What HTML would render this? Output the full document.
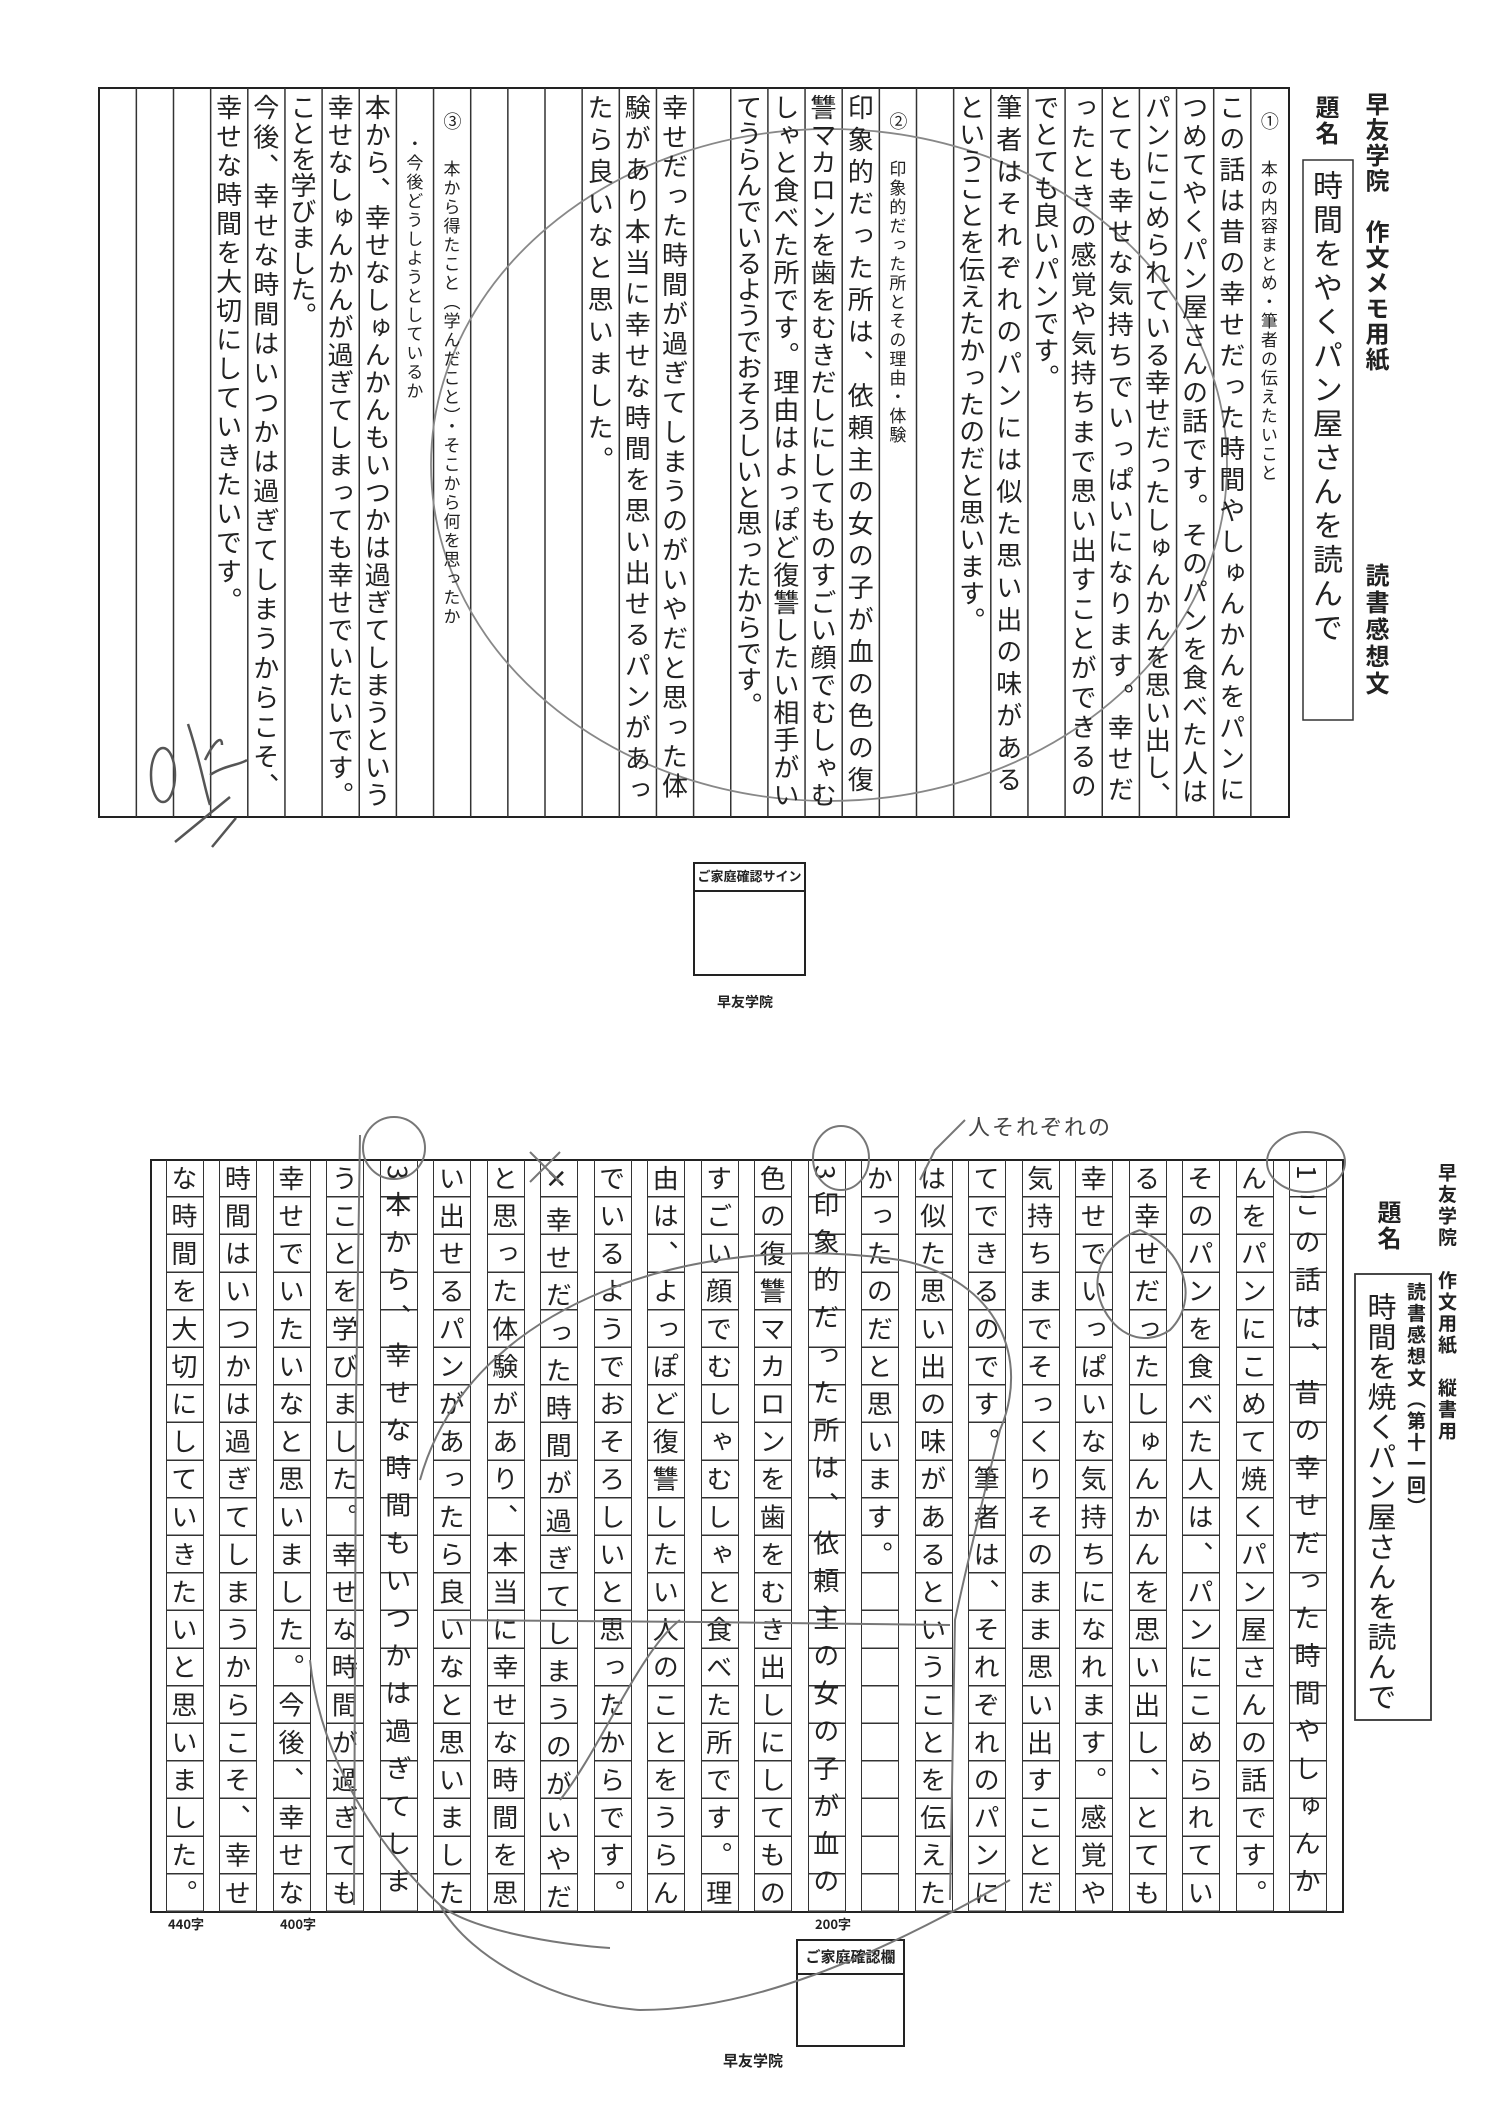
<!DOCTYPE html>
<html><head><meta charset="utf-8"><style>
html,body{margin:0;padding:0;background:#fff;}
body{width:1492px;height:2110px;position:relative;overflow:hidden;font-family:"Liberation Sans","Noto Sans CJK JP",sans-serif;}
.v{position:absolute;writing-mode:vertical-rl;white-space:nowrap;color:#222;}
.hw{font-family:"Noto Sans CJK JP","Liberation Sans",sans-serif;font-weight:400;font-size:26px;text-align:center;}
.pr{font-family:"Noto Sans CJK JP",sans-serif;color:#222;}
.cell{position:absolute;top:1160px;height:752px;width:38px;box-sizing:border-box;border-left:1.5px solid #333;border-right:1.5px solid #333;
background:repeating-linear-gradient(to bottom,transparent 0,transparent 36.1px,#333 36.1px,#333 37.6px);}
.cell span{position:absolute;left:0;top:5px;width:35px;writing-mode:vertical-rl;font-family:"Noto Sans CJK JP",sans-serif;font-weight:400;font-size:26px;line-height:35px;letter-spacing:11.6px;color:#222;white-space:nowrap;}
</style></head><body>

<svg width="1492" height="2110" style="position:absolute;left:0;top:0" xmlns="http://www.w3.org/2000/svg">
<rect x="99" y="88" width="1190" height="729" fill="none" stroke="#222" stroke-width="2"/>
<g stroke="#333" stroke-width="1.5">
<line x1="1250.85" y1="88" x2="1250.85" y2="817"/><line x1="1213.7" y1="88" x2="1213.7" y2="817"/>
<line x1="1176.55" y1="88" x2="1176.55" y2="817"/><line x1="1139.4" y1="88" x2="1139.4" y2="817"/>
<line x1="1102.25" y1="88" x2="1102.25" y2="817"/><line x1="1065.1" y1="88" x2="1065.1" y2="817"/>
<line x1="1027.95" y1="88" x2="1027.95" y2="817"/><line x1="990.8" y1="88" x2="990.8" y2="817"/>
<line x1="953.65" y1="88" x2="953.65" y2="817"/><line x1="916.5" y1="88" x2="916.5" y2="817"/>
<line x1="879.35" y1="88" x2="879.35" y2="817"/><line x1="842.2" y1="88" x2="842.2" y2="817"/>
<line x1="805.05" y1="88" x2="805.05" y2="817"/><line x1="767.9" y1="88" x2="767.9" y2="817"/>
<line x1="730.75" y1="88" x2="730.75" y2="817"/><line x1="693.6" y1="88" x2="693.6" y2="817"/>
<line x1="656.45" y1="88" x2="656.45" y2="817"/><line x1="619.3" y1="88" x2="619.3" y2="817"/>
<line x1="582.15" y1="88" x2="582.15" y2="817"/><line x1="545" y1="88" x2="545" y2="817"/>
<line x1="507.85" y1="88" x2="507.85" y2="817"/><line x1="470.7" y1="88" x2="470.7" y2="817"/>
<line x1="433.55" y1="88" x2="433.55" y2="817"/><line x1="396.4" y1="88" x2="396.4" y2="817"/>
<line x1="359.25" y1="88" x2="359.25" y2="817"/><line x1="322.1" y1="88" x2="322.1" y2="817"/>
<line x1="284.95" y1="88" x2="284.95" y2="817"/><line x1="247.8" y1="88" x2="247.8" y2="817"/>
<line x1="210.65" y1="88" x2="210.65" y2="817"/><line x1="173.5" y1="88" x2="173.5" y2="817"/>
<line x1="136.35" y1="88" x2="136.35" y2="817"/>
</g>
<rect x="1303" y="160" width="50" height="560" fill="none" stroke="#333" stroke-width="1.5"/>
<rect x="694" y="863" width="111" height="112" fill="none" stroke="#222" stroke-width="2"/>
<line x1="694" y1="891" x2="805" y2="891" stroke="#222" stroke-width="2"/>
<rect x="151" y="1160" width="1192" height="752" fill="none" stroke="#222" stroke-width="2"/>
<rect x="1355" y="1274" width="76" height="446" fill="none" stroke="#333" stroke-width="1.8"/>
<rect x="797" y="1940" width="107" height="106" fill="none" stroke="#222" stroke-width="2"/>
<line x1="797" y1="1974" x2="904" y2="1974" stroke="#222" stroke-width="2"/>
<ellipse cx="829" cy="465" rx="398" ry="336" fill="none" stroke="#888" stroke-width="1.8"/>
<ellipse cx="163" cy="775" rx="12" ry="27" fill="none" stroke="#555" stroke-width="2.5"/>
<path d="M188 724 C200 760 205 790 210 805 M205 760 C215 740 222 735 222 745 M210 775 C225 765 240 765 247 760 M230 797 L175 842 M236 818 L212 847" fill="none" stroke="#555" stroke-width="2.5"/>
</svg>

<div class="v pr" style="left:1364px;top:92px;font-size:24px;font-weight:700;letter-spacing:1.5px;line-height:26px;">早友学院　作文メモ用紙</div>
<div class="v pr" style="left:1364px;top:563px;font-size:24px;font-weight:700;letter-spacing:3px;line-height:26px;">読書感想文</div>
<div class="v pr" style="left:1314px;top:95px;font-size:24px;font-weight:700;letter-spacing:2px;line-height:26px;">題名</div>
<div class="v hw" style="left:1303px;width:50px;line-height:50px;top:170px;font-size:30px;letter-spacing:4px;">時間をやくパン屋さんを読んで</div>

<div class="v pr" style="left:1250.85px;width:37px;line-height:37px;text-align:center;top:112px;font-size:18px;">①</div>
<div class="v pr" style="left:1250.85px;width:37px;line-height:37px;text-align:center;top:160px;font-size:17px;letter-spacing:2px;">本の内容まとめ・筆者の伝えたいこと</div>
<div class="v pr" style="left:879.35px;width:37px;line-height:37px;text-align:center;top:112px;font-size:18px;">②</div>
<div class="v pr" style="left:879.35px;width:37px;line-height:37px;text-align:center;top:160px;font-size:17px;letter-spacing:2px;">印象的だった所とその理由・体験</div>
<div class="v pr" style="left:433.55px;width:37px;line-height:37px;text-align:center;top:112px;font-size:18px;">③</div>
<div class="v pr" style="left:433.55px;width:37px;line-height:37px;text-align:center;top:160px;font-size:17px;letter-spacing:2px;">本から得たこと（学んだこと）・そこから何を思ったか</div>
<div class="v pr" style="left:396.4px;width:37px;line-height:37px;text-align:center;top:135px;font-size:17px;letter-spacing:2px;">・今後どうしようとしているか</div>

<div class="v hw" style="left:1213.7px;width:37px;line-height:37px;top:94px;letter-spacing:5px;">この話は昔の幸せだった時間やしゅんかんをパンに</div>
<div class="v hw" style="left:1176.55px;width:37px;line-height:37px;top:94px;letter-spacing:2.5px;">つめてやくパン屋さんの話です。そのパンを食べた人は</div>
<div class="v hw" style="left:1139.4px;width:37px;line-height:37px;top:94px;letter-spacing:1.5px;">パンにこめられている幸せだったしゅんかんを思い出し、</div>
<div class="v hw" style="left:1102.25px;width:37px;line-height:37px;top:94px;letter-spacing:5px;">とても幸せな気持ちでいっぱいになります。幸せだ</div>
<div class="v hw" style="left:1065.1px;width:37px;line-height:37px;top:94px;letter-spacing:3.5px;">ったときの感覚や気持ちまで思い出すことができるの</div>
<div class="v hw" style="left:1027.95px;width:37px;line-height:37px;top:94px;letter-spacing:1px;">でとても良いパンです。</div>
<div class="v hw" style="left:990.8px;width:37px;line-height:37px;top:94px;letter-spacing:6px;">筆者はそれぞれのパンには似た思い出の味がある</div>
<div class="v hw" style="left:953.65px;width:37px;line-height:37px;top:94px;letter-spacing:1px;">ということを伝えたかったのだと思います。</div>

<div class="v hw" style="left:842.2px;width:37px;line-height:37px;top:94px;letter-spacing:6px;">印象的だった所は、依頼主の女の子が血の色の復</div>
<div class="v hw" style="left:805.05px;width:37px;line-height:37px;top:94px;letter-spacing:1.5px;">讐マカロンを歯をむきだしにしてものすごい顔でむしゃむ</div>
<div class="v hw" style="left:767.9px;width:37px;line-height:37px;top:94px;letter-spacing:1.5px;">しゃと食べた所です。理由はよっぽど復讐したい相手がい</div>
<div class="v hw" style="left:730.75px;width:37px;line-height:37px;top:94px;letter-spacing:0px;">てうらんでいるようでおそろしいと思ったからです。</div>
<div class="v hw" style="left:656.45px;width:37px;line-height:37px;top:94px;letter-spacing:3.5px;">幸せだった時間が過ぎてしまうのがいやだと思った体</div>
<div class="v hw" style="left:619.3px;width:37px;line-height:37px;top:94px;letter-spacing:5px;">験があり本当に幸せな時間を思い出せるパンがあっ</div>
<div class="v hw" style="left:582.15px;width:37px;line-height:37px;top:94px;letter-spacing:6px;">たら良いなと思いました。</div>

<div class="v hw" style="left:359.25px;width:37px;line-height:37px;top:94px;letter-spacing:1.5px;">本から、幸せなしゅんかんもいつかは過ぎてしまうという</div>
<div class="v hw" style="left:322.1px;width:37px;line-height:37px;top:94px;letter-spacing:1.5px;">幸せなしゅんかんが過ぎてしまっても幸せでいたいです。</div>
<div class="v hw" style="left:284.95px;width:37px;line-height:37px;top:94px;letter-spacing:0px;">ことを学びました。</div>
<div class="v hw" style="left:247.8px;width:37px;line-height:37px;top:94px;letter-spacing:3.5px;">今後、幸せな時間はいつかは過ぎてしまうからこそ、</div>
<div class="v hw" style="left:210.65px;width:37px;line-height:37px;top:94px;letter-spacing:3px;">幸せな時間を大切にしていきたいです。</div>

<div class="pr" style="position:absolute;left:694px;top:866px;width:111px;text-align:center;font-size:13px;font-weight:700;">ご家庭確認サイン</div>
<div class="pr" style="position:absolute;left:700px;top:992px;width:90px;text-align:center;font-size:14px;font-weight:700;">早友学院</div>

<div class="v pr" style="left:1437px;top:1163px;font-size:19px;font-weight:700;letter-spacing:2.5px;line-height:20px;">早友学院　作文用紙　縦書用</div>
<div class="v pr" style="left:1376px;top:1200px;font-size:24px;font-weight:700;letter-spacing:2px;line-height:26px;">題名</div>
<div class="v pr" style="left:1405px;top:1282px;font-size:19px;font-weight:700;letter-spacing:2.5px;line-height:22px;">読書感想文（第十一回）</div>
<div class="v hw" style="left:1362px;width:40px;line-height:40px;top:1292px;font-size:29px;letter-spacing:1px;">時間を焼くパン屋さんを読んで</div>

<div class="cell" style="left:1289px"><span>1この話は、昔の幸せだった時間やしゅんか</span></div>
<div class="cell" style="left:1235.5px"><span>んをパンにこめて焼くパン屋さんの話です。</span></div>
<div class="cell" style="left:1182px"><span>そのパンを食べた人は、パンにこめられてい</span></div>
<div class="cell" style="left:1128.6px"><span>る幸せだったしゅんかんを思い出し、とても</span></div>
<div class="cell" style="left:1075.1px"><span>幸せでいっぱいな気持ちになれます。感覚や</span></div>
<div class="cell" style="left:1021.6px"><span>気持ちまでそっくりそのまま思い出すことだ</span></div>
<div class="cell" style="left:968.1px"><span>てできるのです。筆者は、それぞれのパンに</span></div>
<div class="cell" style="left:914.6px"><span>は似た思い出の味があるということを伝えた</span></div>
<div class="cell" style="left:861.2px"><span>かったのだと思います。</span></div>
<div class="cell" style="left:807.7px"><span>3印象的だった所は、依頼主の女の子が血の</span></div>
<div class="cell" style="left:754.2px"><span>色の復讐マカロンを歯をむき出しにしてもの</span></div>
<div class="cell" style="left:700.7px"><span>すごい顔でむしゃむしゃと食べた所です。理</span></div>
<div class="cell" style="left:647.2px"><span>由は、よっぽど復讐したい人のことをうらん</span></div>
<div class="cell" style="left:593.8px"><span>でいるようでおそろしいと思ったからです。</span></div>
<div class="cell" style="left:540.3px"><span>✕幸せだった時間が過ぎてしまうのがいやだ</span></div>
<div class="cell" style="left:486.8px"><span>と思った体験があり、本当に幸せな時間を思</span></div>
<div class="cell" style="left:433.3px"><span>い出せるパンがあったら良いなと思いました</span></div>
<div class="cell" style="left:379.8px"><span>3本から、幸せな時間もいつかは過ぎてしま</span></div>
<div class="cell" style="left:326.4px"><span>うことを学びました。幸せな時間が過ぎても</span></div>
<div class="cell" style="left:272.9px"><span>幸せでいたいなと思いました。今後、幸せな</span></div>
<div class="cell" style="left:219.4px"><span>時間はいつかは過ぎてしまうからこそ、幸せ</span></div>
<div class="cell" style="left:165.9px"><span>な時間を大切にしていきたいと思いました。</span></div>

<div class="pr" style="position:absolute;left:168px;top:1914px;font-size:13px;font-weight:700;">440字</div>
<div class="pr" style="position:absolute;left:280px;top:1914px;font-size:13px;font-weight:700;">400字</div>
<div class="pr" style="position:absolute;left:815px;top:1914px;font-size:13px;font-weight:700;">200字</div>
<div class="pr" style="position:absolute;left:797px;top:1946px;width:107px;text-align:center;font-size:15px;font-weight:700;">ご家庭確認欄</div>
<div class="pr" style="position:absolute;left:705px;top:2050px;width:96px;text-align:center;font-size:15px;font-weight:700;">早友学院</div>

<div style="position:absolute;left:968px;top:1110px;font-family:'Noto Sans CJK JP',sans-serif;font-weight:400;font-size:22px;color:#444;letter-spacing:2px;">人それぞれの</div>

<svg width="1492" height="2110" style="position:absolute;left:0;top:0;pointer-events:none" xmlns="http://www.w3.org/2000/svg">
<g fill="none" stroke="#777" stroke-width="2">
<ellipse cx="1306" cy="1162" rx="39" ry="30"/>
<ellipse cx="841" cy="1158" rx="28" ry="32"/>
<ellipse cx="394" cy="1148" rx="31" ry="31"/>
<path d="M965 1120 L935 1150 L920 1180"/>
<path d="M360 1135 L356 1400 L354 1905"/>
<path d="M1140 1230 C1185 1250 1200 1300 1170 1330 C1140 1350 1110 1330 1100 1300 C1090 1270 1110 1240 1140 1230"/>
<path d="M420 1480 C470 1300 700 1230 900 1260 C1000 1280 1030 1360 1000 1430 C990 1470 970 1550 955 1620 L950 1900"/>
<path d="M447 1620 L700 1622 L950 1625"/>
<path d="M560 1800 C600 1750 640 1650 680 1620"/>
<path d="M310 1660 C320 1760 380 1850 440 1905"/>
<path d="M440 1905 C470 1960 560 2005 640 2010 C750 2010 870 1960 1010 1880"/>
<path d="M440 1905 C470 1930 560 1945 610 1948"/>
<path d="M530 1152 L560 1182 M560 1152 L530 1182"/>
</g>
</svg>
</body></html>
